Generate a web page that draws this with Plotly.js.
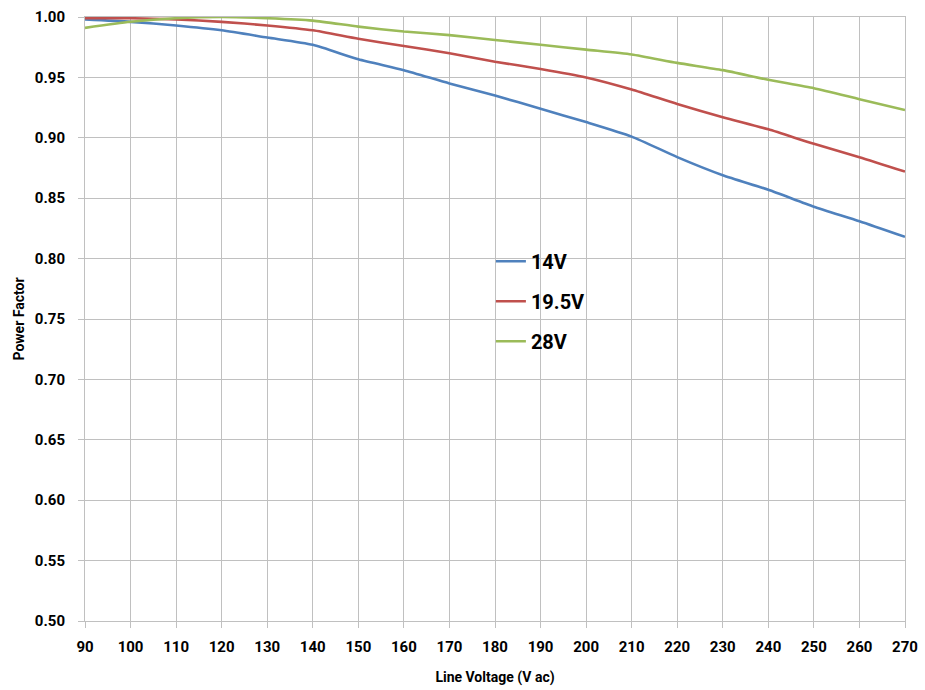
<!DOCTYPE html>
<html><head><meta charset="utf-8">
<script src="https://cdn.plot.ly/plotly-3.0.1.min.js"></script>
<style>html,body{margin:0;padding:0;background:#fff}#c{width:925px;height:690px}</style>
</head><body><div id="c"></div>
<script>
const voltage = [90,100,110,120,130,140,150,160,170,180,190,200,210,220,230,240,250,260,270];
const pf14 = [0.998,0.996,0.993,0.989,0.983,0.977,0.965,0.956,0.945,0.935,0.924,0.913,0.901,0.884,0.869,0.857,0.843,0.831,0.818];
const pf195 = [0.999,0.999,0.998,0.996,0.993,0.989,0.982,0.976,0.970,0.963,0.957,0.950,0.940,0.928,0.917,0.907,0.895,0.884,0.872];
const pf28 = [0.991,0.996,0.999,1.000,0.999,0.997,0.992,0.988,0.985,0.981,0.977,0.973,0.969,0.962,0.956,0.948,0.941,0.932,0.923];
const seriesNames = ['14V','19.5V','28V'];
const colors = ['#4F81BD','#C0504D','#9BBB59'];
const ticksX = voltage;
const ticksY = [0.50,0.55,0.60,0.65,0.70,0.75,0.80,0.85,0.90,0.95,1.00];

const font = 'Roboto, sans-serif';
const traces = [pf14, pf195, pf28].map((ys,i)=>({
  x: voltage, y: ys, name: seriesNames[i], legendgroup:'g'+i, type:'scatter', mode:'lines',
  line:{color:colors[i], width:2.6, shape:'spline', smoothing:0.6}
}));
const layout = {
  width:925, height:690,
  margin:{l:85, r:20, t:17, b:69},
  paper_bgcolor:'#fff', plot_bgcolor:'#fff',
  font:{family:font, color:'#000'},
  showlegend:true,
  legend:{x:0.495, y:0.628, xanchor:'left', yanchor:'top', font:{size:20, family:font, weight:'bold'}, bgcolor:'rgba(0,0,0,0)', tracegroupgap:11, itemwidth:30},
  xaxis:{range:[90,270], tickvals:ticksX, ticktext:ticksX.map(String), showgrid:true, gridcolor:'#c0c0c0', gridwidth:1,
    zeroline:false, showline:true, linecolor:'#c0c0c0', mirror:true, ticks:'outside', ticklen:6, tickcolor:'#c0c0c0',
    ticklabelstandoff:6, tickfont:{size:15, family:font, weight:'bold'},
    title:{text:'<b>Line Voltage (V ac)</b>', font:{size:14, family:font}, standoff:17}},
  yaxis:{range:[0.5,1.0], tickvals:ticksY, ticktext:ticksY.map(v=>v.toFixed(2)), showgrid:true, gridcolor:'#c0c0c0', gridwidth:1,
    zeroline:false, showline:true, linecolor:'#c0c0c0', mirror:true, ticks:'outside', ticklen:6, tickcolor:'#c0c0c0',
    ticklabelstandoff:10, tickfont:{size:15, family:font, weight:'bold'},
    title:{text:'<b>Power Factor</b>', font:{size:14, family:font}, standoff:6}}
};
Plotly.newPlot('c', traces, layout, {displayModeBar:false, staticPlot:true});
</script></body></html>
